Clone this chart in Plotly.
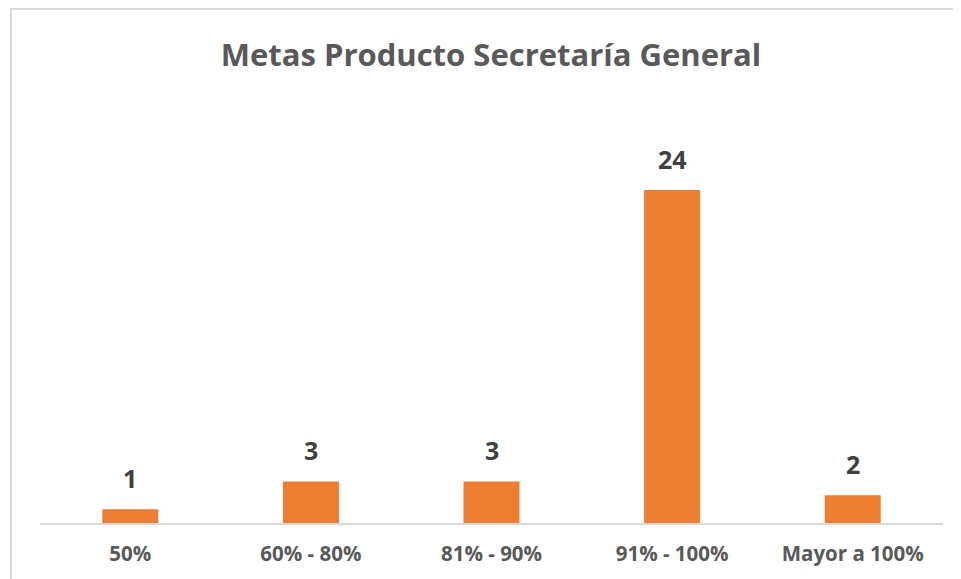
import plotly.graph_objects as go

categories = ["50%", "60% - 80%", "81% - 90%", "91% - 100%", "Mayor a 100%"]
values = [1, 3, 3, 24, 2]

W, H = 961, 579
OFF = 8  # page body offset
ml, mr, mb, mt = 40 - OFF, 18 + OFF, 56 + OFF, 130 - OFF
plot_h = H - mt - mb
plot_w = W - ml - mr
y_max = 24 * plot_h / 333.0
FONT = "Open Sans"

fig = go.Figure(go.Bar(
    x=categories, y=values,
    marker=dict(color="#ED7D31", line=dict(width=0)),
    width=0.31,
    cliponaxis=False,
))

for c, v in zip(categories, values):
    fig.add_annotation(x=c, y=v, text=str(v), showarrow=False,
                       yanchor="bottom", yshift=12,
                       font=dict(family=FONT, size=25, color="#404040", weight="bold"))

fig.update_layout(
    width=W, height=H,
    margin=dict(l=ml, r=mr, t=mt, b=mb),
    paper_bgcolor="white", plot_bgcolor="white",
    title=dict(text="Metas Producto Secretaría General", x=(491 - OFF) / W, xanchor="center",
               y=1 - (55 - OFF) / H, yanchor="middle",
               font=dict(family=FONT, size=31, color="#595959", weight="bold")),
    xaxis=dict(showline=True, linecolor="#d9d9d9", linewidth=2, ticks="",
               tickfont=dict(family=FONT, size=20.5, color="#595959", weight="bold"),
               showgrid=False, ticklabelstandoff=11),
    yaxis=dict(range=[0, y_max], visible=False, showgrid=False),
    showlegend=False,
    shapes=[dict(type="rect", xref="paper", yref="paper",
                 x0=(11 - OFF - ml) / plot_w, x1=(W + 20 - ml) / plot_w,
                 y0=-(mb + 20) / plot_h, y1=(H - mb - (9 - OFF)) / plot_h,
                 line=dict(color="#d9d9d9", width=2), layer="below")],
)

fig.write_html("out.html")
